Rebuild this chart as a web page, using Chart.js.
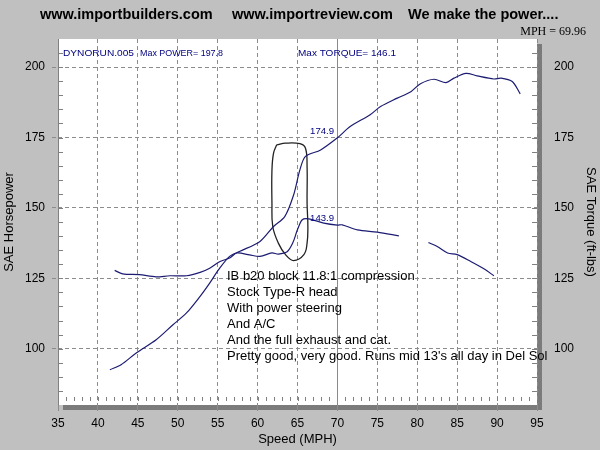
<!DOCTYPE html>
<html>
<head>
<meta charset="utf-8">
<script src="https://cdn.jsdelivr.net/npm/chart.js@4.4.1/dist/chart.umd.min.js"></script>
<style>
  html, body { margin: 0; padding: 0; background: #c0c0c0; }
  #wrap { width: 600px; height: 450px; position: relative; }
</style>
</head>
<body>
<div id="wrap"><canvas id="dyno"></canvas></div>
<script>
// horsepower run (speed in mph, SAE hp)
const hpSpeed = [41.5, 42.9, 44.8, 47.3, 49.4, 51.1, 52.8, 54.0, 55.1, 56.5, 57.8, 60.3, 62.0, 63.4, 64.5, 65.3, 66.0, 67.9, 70.0, 71.6, 74.1, 75.4, 77.5, 79.2, 80.4, 82.1, 83.6, 84.6, 86.1, 87.5, 89.6, 90.5, 91.9, 92.9];
const hpValues = [92.5, 94.3, 98.5, 103.2, 108.5, 112.7, 118.6, 123.3, 128.0, 132.8, 134.6, 138.1, 143.4, 146.9, 154.5, 163.5, 168.3, 170.6, 174.9, 178.9, 183.1, 186.0, 189.0, 191.3, 194.1, 195.7, 194.5, 196.1, 197.8, 196.9, 195.8, 196.1, 194.9, 190.5];

// torque run (ft-lbs), null = gap in the trace
const tqSpeed = [42.1, 43.1, 45.2, 47.3, 49.0, 51.1, 52.8, 54.0, 55.3, 56.5, 57.4, 59.0, 60.3, 61.8, 62.6, 63.7, 64.4, 65.0, 65.6, 66.4, 68.3, 70.0, 70.6, 72.5, 75.0, 77.7, 79.5, 81.4, 82.5, 83.8, 85.0, 86.7, 88.4, 89.6];
const tqValues = [127.8, 126.6, 126.3, 125.5, 125.9, 125.9, 127.1, 128.6, 131.0, 132.2, 134.0, 133.3, 132.8, 134.0, 133.6, 134.4, 137.5, 142.3, 145.8, 146.1, 144.6, 143.9, 144.0, 142.2, 141.4, 140.1, null, 137.7, 136.3, 134.0, 133.4, 131.0, 128.3, 125.9];

// hand drawn loop around the vtec crossover
const loopSpeed = [62.4, 63.5, 65.3, 66.0, 66.2, 66.2, 66.3, 66.2, 65.8, 64.5, 63.5, 62.6, 61.9, 61.8, 61.8, 62.0, 62.4];
const loopValues = [172.4, 173.0, 172.8, 171.2, 164.7, 151.7, 143.4, 137.5, 133.4, 131.3, 133.4, 137.5, 143.4, 151.7, 163.5, 169.5, 172.4];

const xTicks = [35, 40, 45, 50, 55, 60, 65, 70, 75, 80, 85, 90, 95];
const yTicks = [100, 125, 150, 175, 200];

const cursorMph = 69.96;
const hpAtCursor = 174.9;
const tqAtCursor = 143.9;
const maxPower = 197.8;
const maxTorque = 146.1;
const runName = 'DYNORUN.005';
const headerTexts = ['www.importbuilders.com', 'www.importreview.com', 'We make the power....'];
const noteLines = [
  'IB b20 block 11.8:1 compression',
  'Stock Type-R head',
  'With power steering',
  'And A/C',
  'And the full exhaust and cat.',
  "Pretty good, very good. Runs mid 13's all day in Del Sol"
];

const NAVY = '#1c1c72';
const SANS = 'Arial, "Liberation Sans", sans-serif';

function pts(xs, ys) {
  return xs.map((x, i) => ({ x: x, y: ys[i] }));
}

function fitText(ctx, text, x, y, width, font, color, align) {
  ctx.save();
  ctx.font = font;
  const sx = width / ctx.measureText(text).width;
  ctx.translate(x, y);
  ctx.scale(sx, 1);
  ctx.textAlign = align || 'left';
  ctx.textBaseline = 'alphabetic';
  ctx.fillStyle = color;
  ctx.fillText(text, 0, 0);
  ctx.restore();
}

const dynoFrame = {
  id: 'dynoFrame',
  beforeDraw(chart) {
    const ctx = chart.ctx, a = chart.chartArea;
    ctx.save();
    ctx.fillStyle = '#c0c0c0';
    ctx.fillRect(0, 0, chart.width, chart.height);
    ctx.fillStyle = '#7b7b7b';
    ctx.fillRect(a.left + 5, a.top + 5, a.right - a.left, a.bottom - a.top);
    ctx.fillStyle = '#ffffff';
    ctx.fillRect(a.left, a.top, a.right - a.left, a.bottom - a.top);
    ctx.restore();
  },
  beforeDatasetsDraw(chart) {
    const ctx = chart.ctx, a = chart.chartArea;
    const xs = chart.scales.x, ys = chart.scales.y;
    ctx.save();
    ctx.strokeStyle = '#808080';
    ctx.lineWidth = 1;
    ctx.beginPath();
    // left axis line
    ctx.moveTo(a.left + 0.5, a.top); ctx.lineTo(a.left + 0.5, a.bottom);
    // minor ticks every 5 units on both sides
    for (let v = 85; v < 210; v += 5) {
      const py = Math.round(ys.getPixelForValue(v)) + 0.5;
      ctx.moveTo(a.left, py); ctx.lineTo(a.left + 5, py);
      ctx.moveTo(a.right - 5, py); ctx.lineTo(a.right, py);
    }
    // minor ticks every mph along the bottom
    for (let m = 36; m < 95; m++) {
      const px = Math.round(xs.getPixelForValue(m)) + 0.5;
      ctx.moveTo(px, a.bottom - 8); ctx.lineTo(px, a.bottom - 4);
    }
    ctx.stroke();
    // cursor line
    const cx = Math.round(xs.getPixelForValue(cursorMph)) + 0.5;
    ctx.strokeStyle = '#8a8a8a';
    ctx.beginPath();
    ctx.moveTo(cx, a.top); ctx.lineTo(cx, a.bottom);
    ctx.stroke();
    ctx.restore();
  },
  afterDraw(chart) {
    const ctx = chart.ctx, a = chart.chartArea;
    const xs = chart.scales.x, ys = chart.scales.y;
    ctx.save();
    ctx.fillStyle = '#000';
    ctx.font = 'bold 14.5px ' + SANS;
    ctx.textBaseline = 'alphabetic';
    ctx.fillText(headerTexts[0], 40, 19);
    ctx.fillText(headerTexts[1], 232, 19);
    ctx.fillText(headerTexts[2], 408, 19);
    ctx.font = '12px "Liberation Serif", "Times New Roman", serif';
    ctx.textAlign = 'right';
    ctx.fillText('MPH = ' + cursorMph.toFixed(2), 586, 35);
    ctx.restore();

    fitText(ctx, runName, a.left + 5, a.top + 17, 71, '9.5px ' + SANS, '#000080');
    fitText(ctx, 'Max POWER= ' + maxPower.toFixed(1), 140, a.top + 17, 83, '9.5px ' + SANS, '#000080');
    fitText(ctx, 'Max TORQUE= ' + maxTorque.toFixed(1), 298, a.top + 17, 98, '9.5px ' + SANS, '#000080');

    const cx = xs.getPixelForValue(cursorMph);
    fitText(ctx, hpAtCursor.toFixed(1), cx - 3, ys.getPixelForValue(hpAtCursor) - 4, 24, '9.5px ' + SANS, '#000080', 'right');
    fitText(ctx, tqAtCursor.toFixed(1), cx - 3, ys.getPixelForValue(tqAtCursor) - 4, 24, '9.5px ' + SANS, '#000080', 'right');

    ctx.save();
    ctx.fillStyle = '#000';
    ctx.font = '13px ' + SANS;
    noteLines.forEach((line, i) => ctx.fillText(line, 227, 280 + i * 16));
    ctx.restore();
  }
};

const tickFont = { family: SANS, size: 12 };
const titleFont = { family: SANS, size: 13 };

new Chart(document.getElementById('dyno').getContext('2d'), {
  type: 'scatter',
  data: {
    datasets: [
      {
        label: 'SAE Horsepower',
        data: pts(hpSpeed, hpValues),
        yAxisID: 'y',
        showLine: true,
        borderColor: NAVY,
        borderWidth: 1.2,
        pointRadius: 0,
        tension: 0.3
      },
      {
        label: 'SAE Torque',
        data: pts(tqSpeed, tqValues),
        yAxisID: 'y1',
        showLine: true,
        spanGaps: false,
        borderColor: NAVY,
        borderWidth: 1.2,
        pointRadius: 0,
        tension: 0.3
      },
      {
        label: 'loop',
        data: pts(loopSpeed, loopValues),
        yAxisID: 'y1',
        showLine: true,
        borderColor: '#222222',
        borderWidth: 1.3,
        pointRadius: 0,
        tension: 0.4
      }
    ]
  },
  options: {
    responsive: true,
    maintainAspectRatio: false,
    animation: false,
    events: [],
    layout: { padding: { top: 39, left: 0, right: 0, bottom: 0 } },
    plugins: {
      legend: { display: false },
      tooltip: { enabled: false }
    },
    scales: {
      x: {
        type: 'linear',
        position: 'bottom',
        min: 35,
        max: 95,
        afterBuildTicks: (s) => { s.ticks = xTicks.map(v => ({ value: v })); },
        afterFit: (s) => { s.height = 45; },
        ticks: { font: tickFont, color: '#000', padding: 5, maxRotation: 0 },
        grid: {
          color: '#8c8c8c',
          tickLength: 6,
          tickColor: '#8c8c8c'
        },
        border: { display: false, dash: [4, 3] },
        title: { display: true, text: 'Speed (MPH)', font: titleFont, color: '#000', padding: { top: 0, bottom: 3 } }
      },
      y: {
        type: 'linear',
        position: 'left',
        min: 80,
        max: 210,
        afterBuildTicks: (s) => { s.ticks = yTicks.map(v => ({ value: v })); },
        afterFit: (s) => { s.width = 58; },
        ticks: { font: tickFont, color: '#000', padding: 7 },
        grid: {
          color: '#8c8c8c',
          tickLength: 6,
          tickColor: '#8c8c8c',
          tickBorderDash: [4, 3]
        },
        border: { display: false, dash: [4, 3] },
        title: { display: true, text: 'SAE Horsepower', font: titleFont, color: '#000', padding: { top: 2, bottom: 0 } }
      },
      y1: {
        type: 'linear',
        position: 'right',
        min: 80,
        max: 210,
        afterBuildTicks: (s) => { s.ticks = yTicks.map(v => ({ value: v })); },
        afterFit: (s) => { s.width = 63; },
        ticks: { font: tickFont, color: '#000', padding: 11 },
        grid: { drawOnChartArea: false, tickLength: 6, tickColor: 'rgba(0,0,0,0)' },
        border: { display: false },
        title: { display: true, text: 'SAE Torque (ft-lbs)', font: titleFont, color: '#000', padding: { top: 2, bottom: 0 } }
      }
    }
  },
  plugins: [dynoFrame]
});
</script>
</body>
</html>
